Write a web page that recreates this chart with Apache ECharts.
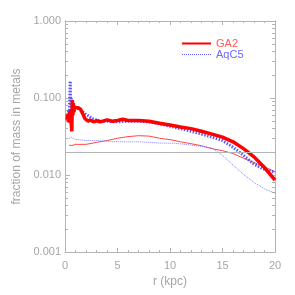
<!DOCTYPE html>
<html>
<head>
<meta charset="utf-8">
<script src="https://cdn.jsdelivr.net/npm/echarts@6/dist/echarts.min.js"></script>
<style>html,body{margin:0;padding:0;background:#fff}#c{width:295px;height:295px}</style>
</head>
<body>
<div id="c"></div>
<script>
// ---- data ----
const ga2TotalR = [0.2,0.25,0.3,0.35,0.4,0.45,0.5,0.55,0.6,0.65,0.7,0.75,0.8,0.85,0.9,1.0,1.1,1.2,1.3,1.4,1.5,1.6,1.7,1.8,1.9,2.0,2.2,2.4,2.6,2.8,3.0,3.3,3.6,4.0,4.5,5.0,5.5,6,7,8,9,10,11,12,13,14,15,16,17,18,19,20];
const ga2TotalV = [0.052,0.062,0.050,0.060,0.048,0.065,0.055,0.070,0.045,0.037,0.094,0.060,0.085,0.065,0.075,0.072,0.075,0.077,0.074,0.075,0.071,0.066,0.062,0.058,0.054,0.051,0.050,0.052,0.050,0.049,0.051,0.049,0.050,0.052,0.050,0.051,0.053,0.051,0.051,0.050,0.047,0.0445,0.042,0.040,0.037,0.034,0.031,0.027,0.022,0.0172,0.0125,0.0086];
const aqTotalR = [0.3,0.35,0.4,0.45,0.5,0.55,0.6,0.65,0.7,0.75,0.8,0.9,1.0,1.2,1.4,1.6,1.8,2.0,2.3,2.6,3.0,3.5,4,5,6,7,8,9,10,11,12,13,14,15,16,17,18,19,20];
const aqTotalV = [0.055,0.070,0.060,0.100,0.166,0.080,0.100,0.060,0.090,0.065,0.085,0.070,0.075,0.073,0.070,0.068,0.064,0.061,0.058,0.054,0.052,0.050,0.050,0.049,0.050,0.050,0.049,0.046,0.043,0.040,0.037,0.034,0.031,0.028,0.023,0.018,0.0138,0.0118,0.0108];
const ga2InnerR = [0.4,0.6,1,2,3,4,5,6,7,8,9,10,11,12,13,14,15,16,17,18,19,20];
const ga2InnerV = [0.0245,0.024,0.025,0.025,0.0265,0.028,0.030,0.0315,0.0324,0.032,0.030,0.0288,0.027,0.0255,0.024,0.022,0.0207,0.019,0.0165,0.0145,0.0128,0.011];
const aqInnerR = [0.4,0.6,1,2,3,4,5,7,9,10.5,12,13,14,15,16,17,18,19,20];
const aqInnerV = [0.030,0.031,0.029,0.028,0.028,0.0275,0.027,0.027,0.026,0.0258,0.0245,0.0235,0.0224,0.018,0.0135,0.0102,0.0080,0.0066,0.0058];
const refLevel = 0.02;
const yMajorTicks = [0.001,0.01,0.1,1];
const xTicks = [0,5,10,15,20];
const seriesNames = ['GA2','AqC5'];

const pairs = (r,v) => r.map((x,i)=>[x,v[i]]);
const yMinorTicks = [];
[0.001,0.01,0.1].forEach(d=>{for(let k=2;k<=9;k++) yMinorTicks.push(+(d*k).toPrecision(3));});

const AX = '#b4b4b4', LBL = '#a6a6a6', FONT = 'Liberation Sans';

const yBase = (pos, showLabel, ticks, len) => ({
  type:'log', logBase:10, min:0.001, max:1, position:pos, gridIndex:0,
  axisLine:{show:true,onZero:false,lineStyle:{color:AX,width:1}},
  splitLine:{show:false},
  axisTick:{show:true,inside:true,length:len,lineStyle:{color:AX},customValues:ticks},
  axisLabel:{show:showLabel,customValues:yMajorTicks,color:LBL,fontSize:11,fontFamily:FONT,margin:4,
    formatter:v=>Number(v).toFixed(3)}
});

const chart = echarts.init(document.getElementById('c'), null, {renderer:'canvas'});
chart.setOption({
  animation:false,
  backgroundColor:'#fff',
  grid:{left:65,right:20,top:21,bottom:43,containLabel:false},
  legend:{
    orient:'vertical', left:181, top:38, padding:0, itemWidth:29, itemHeight:8, itemGap:0,
    textStyle:{fontFamily:FONT,fontSize:11,lineHeight:11},
    data:[
      {name:seriesNames[0],itemStyle:{opacity:0},lineStyle:{color:'#ff0000',width:2,type:'solid'},textStyle:{color:'#ff5a5a'}},
      {name:seriesNames[1],itemStyle:{opacity:0},lineStyle:{color:'#4040ff',width:1,type:'dotted'},textStyle:{color:'#6a6aff'}}
    ]
  },
  xAxis:[
    {type:'value',min:0,max:20,interval:5,position:'bottom',
      name:'r (kpc)',nameLocation:'middle',nameGap:20,
      nameTextStyle:{color:LBL,fontSize:12,fontFamily:FONT},
      axisLine:{show:true,onZero:false,lineStyle:{color:AX}},
      splitLine:{show:false},
      axisTick:{show:true,inside:true,length:4,lineStyle:{color:AX}},
      minorTick:{show:true,splitNumber:5,length:2,lineStyle:{color:AX}},
      axisLabel:{color:LBL,fontSize:11,fontFamily:FONT,margin:8}},
    {type:'value',min:0,max:20,interval:5,position:'top',
      axisLine:{show:true,onZero:false,lineStyle:{color:AX}},
      splitLine:{show:false},
      axisTick:{show:true,inside:true,length:4,lineStyle:{color:AX}},
      minorTick:{show:true,splitNumber:5,length:2,lineStyle:{color:AX}},
      axisLabel:{show:false}}
  ],
  yAxis:[
    Object.assign(yBase('left',true,yMajorTicks,5),{
      name:'fraction of mass in metals',nameLocation:'middle',nameGap:35,
      nameTextStyle:{color:LBL,fontSize:12,fontFamily:FONT}}),
    yBase('left',false,yMinorTicks,3),
    yBase('right',false,yMajorTicks,5),
    yBase('right',false,yMinorTicks,3)
  ],
  series:[
    {name:'GA2 inner',type:'line',showSymbol:false,symbol:'none',z:2,
      data:pairs(ga2InnerR,ga2InnerV),lineStyle:{color:'#ff4646',width:1},
      markLine:{silent:true,symbol:'none',label:{show:false},
        lineStyle:{color:'#b4b4b4',width:1,type:'solid'},data:[{yAxis:refLevel}]}},
    {name:'AqC5 inner',type:'line',showSymbol:false,symbol:'none',z:2,
      data:pairs(aqInnerR,aqInnerV),lineStyle:{color:'#8080ff',width:1,type:[1,1]}},
    {name:seriesNames[1],type:'line',showSymbol:false,symbol:'none',z:3,
      itemStyle:{color:'#4040ff'},
      data:pairs(aqTotalR,aqTotalV),lineStyle:{color:'#3a3aff',width:3,type:[1.5,1.5],opacity:0.85}},
    {name:seriesNames[0],type:'line',showSymbol:false,symbol:'none',z:4,
      itemStyle:{color:'#ff0000'},
      data:pairs(ga2TotalR,ga2TotalV),lineStyle:{color:'#ff0000',width:3.5}}
  ]
});
</script>
</body>
</html>
